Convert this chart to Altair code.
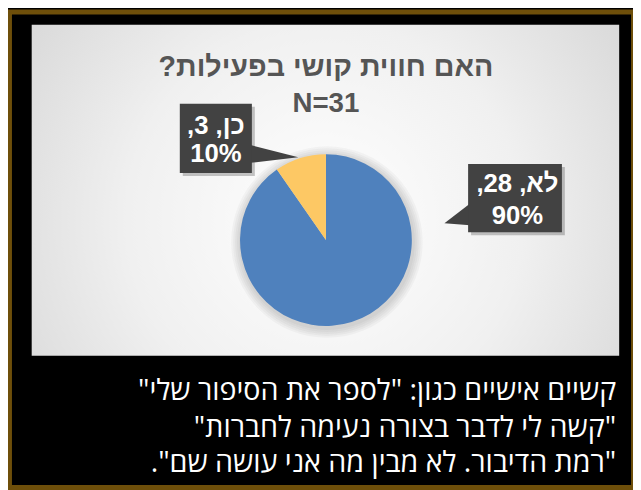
import altair as alt
import pandas as pd

# ---- data ----
categories = ["לא", "כן"]
counts = [28, 3]
colors = ["#4f81bd", "#fdc864"]
title_text = "האם חווית קושי בפעילות?"
notes = [
    'קשיים אישיים כגון: "לספר את הסיפור שלי"',
    '"קשה לי לדבר בצורה נעימה לחברות"',
    '"רמת הדיבור. לא מבין מה אני עושה שם".',
]

RLM = "\u200f"
total = sum(counts)
df = pd.DataFrame({
    "cat": categories,
    "count": counts,
    "idx": list(range(len(categories))),
})
df["line1"] = [RLM + f"{c}, {n}," + RLM for c, n in zip(categories, counts)]
df["line2"] = [f"{round(100 * n / total)}%" for n in counts]

one = pd.DataFrame({"k": [0]})
W, H = 633, 482
CX, CY, R = 322, 232, 87

base = alt.Chart(one)

# gold frame
frame = base.mark_rect(filled=False, stroke="#6e4f0a", strokeWidth=5).encode(
    x=alt.value(1.5), x2=alt.value(633.5), y=alt.value(1), y2=alt.value(482.5)
)

# panel with radial gradient
panel = base.mark_rect(
    fill=alt.Gradient(
        gradient="radial",
        stops=[
            alt.GradientStop(color="#ffffff", offset=0),
            alt.GradientStop(color="#f0f0f0", offset=0.45),
            alt.GradientStop(color="#cdcdcd", offset=1),
        ],
        x1=0.5, y1=0.55, r1=0, x2=0.5, y2=0.55, r2=0.75,
    )
).encode(x=alt.value(24), x2=alt.value(619), y=alt.value(14), y2=alt.value(349))

title = base.mark_text(
    text=RLM + title_text + RLM, font="Liberation Sans", fontWeight="bold",
    fontSize=29, color="#555555", align="center", baseline="middle",
).encode(x=alt.value(CX), y=alt.value(57))

ntext = base.mark_text(
    text=f"N={total}", font="Liberation Sans", fontWeight="bold",
    fontSize=28, color="#555555", align="center", baseline="middle",
).encode(x=alt.value(CX), y=alt.value(94))

# soft shadow around pie
halos = [
    base.mark_arc(theta=0, theta2=6.2832, outerRadius=R + k, fill="#000000", opacity=0.03).encode(
        x=alt.value(CX + 1), y=alt.value(CY + 2)
    )
    for k in (2, 4, 6, 8, 10)
]

pie = alt.Chart(df).mark_arc(outerRadius=R, stroke=None).encode(
    theta=alt.Theta("count:Q", stack=True),
    order=alt.Order("idx:O"),
    color=alt.Color("cat:N", scale=alt.Scale(domain=categories, range=colors), legend=None),
    x=alt.value(CX), y=alt.value(CY),
)

BOX = "#424242"


def label(i, x0, x1, y0, y1, ax, ay, path, tx, l1y, l2y):
    d = alt.Chart(df).transform_filter(alt.datum.idx == i)
    shadow = base.mark_rect(fill="#000000", opacity=0.22).encode(
        x=alt.value(x0 + 3), x2=alt.value(x1 + 3), y=alt.value(y0 + 3), y2=alt.value(y1 + 3)
    )
    box = base.mark_rect(fill=BOX).encode(
        x=alt.value(x0), x2=alt.value(x1), y=alt.value(y0), y2=alt.value(y1)
    )
    ptr = base.mark_point(shape=path, filled=True, fill=BOX, strokeWidth=0, opacity=1, size=10000).encode(
        x=alt.value(ax), y=alt.value(ay)
    )
    t1 = d.mark_text(font="Liberation Sans", fontWeight="bold", fontSize=26, color="white",
                     align="center", baseline="middle").encode(
        text="line1:N", x=alt.value(tx), y=alt.value(l1y))
    t2 = d.mark_text(font="Liberation Sans", fontWeight="bold", fontSize=26, color="white",
                     align="center", baseline="middle").encode(
        text="line2:N", x=alt.value(tx), y=alt.value(l2y))
    return [shadow, ptr, box, t1, t2]


lab_yes = label(1, 174, 247, 94, 164, 245, 145, "M-0.04,-0.2L0.98,0.06L-0.04,0.18Z", 210.5, 117, 145)
lab_no = label(0, 466, 561, 155, 224, 466, 205, "M0.04,-0.2L-0.48,0.2L0.04,0.24Z", 516, 175, 208)

note_layers = [
    base.mark_text(
        text=RLM + s + RLM, font="Open Sans", fontSize=29, color="white",
        align="right", baseline="alphabetic",
    ).encode(x=alt.value(616), y=alt.value(yy))
    for s, yy in zip(notes, [394, 431, 467])
]

chart = alt.layer(
    frame, panel, title, ntext, *halos, pie, *lab_yes, *lab_no, *note_layers
).properties(
    width=W, height=H, background="black", padding=0, autosize="none"
).configure_view(stroke=None)

chart.save("out.html", embed_options={"renderer": "svg", "actions": False})
